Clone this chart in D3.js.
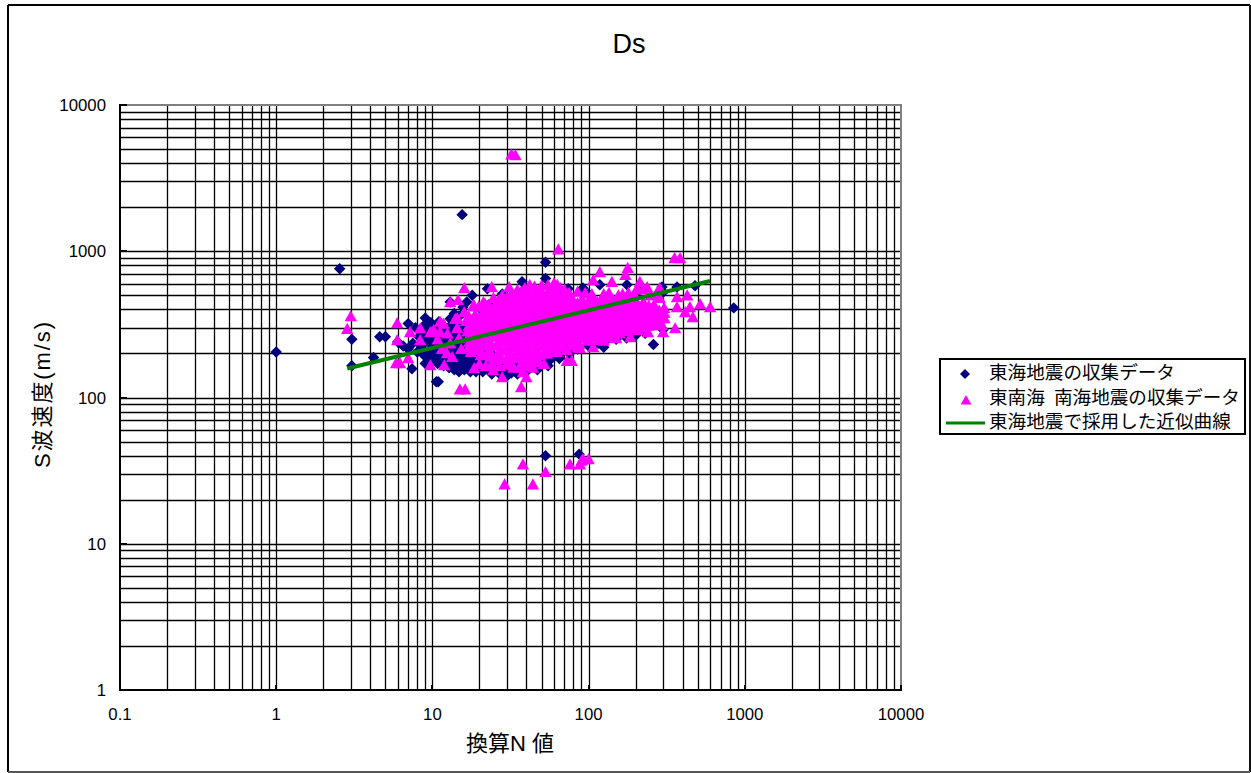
<!DOCTYPE html>
<html><head><meta charset="utf-8">
<script src="https://d3js.org/d3.v7.min.js"></script>
<style>html,body{margin:0;padding:0;background:#fff}svg{display:block}text{fill:#000}</style>
</head><body><svg id="c" width="1251" height="773"></svg>
<script>
const chartTitle="Ds", xTitle="換算N 値", yTitle="S波速度(m/s)";
const xTicks=[0.1,1,10,100,1000,10000], yTicks=[1,10,100,1000,10000];
const legendLabels=["東海地震の収集データ","東南海 南海地震の収集データ","東海地震で採用した近似曲線"];
const curve=[[2.85,158],[600,626]];
const tokai=[[1,205],[2.55,760],[15.5,1780],[53,840],[53,650],[3.05,250],[3.05,165],[53,40],[87,41],[850,410],[260,230],[125,221],[480,580],[368,570],[295,570],[176,590],[118,590],[92,560],[74,555],[37.5,618],[22.5,555],[18,500],[13,450],[9,350],[7,320],[4.6,260],[5,260],[4.2,188],[7.4,157],[10.6,128],[10.9,128],[10.8,171],[9,171],
[32,147],[21,171],[22.5,159],[47.6,162],[55,175],[64,201],[74,232],[124,267],[15.7,415],[15.7,378],[16.6,450],[14.6,355],[13,345],[11,330],[9.5,300],[8.5,280],[10,270],[12,290],[14,310],[6,240],[6.5,225],[7,215],[7.5,235],[8,205],[8.5,225],[9,250],[9.5,200],[10,225],[10.5,190],[11,215],[11.5,250],[12,195],[12.5,235],[13,180],[13.5,215],[14,260],[14.5,190],[15,240],[15.5,170],[16,205],[17,185],[17.5,270],[18,165],[19,195],[19.5,300],[20,160],[21,330],[24,155],[26,165],[28,150],[30,160],[34,150],[36,165],[42,170],[50,180],[60,190],[28,510],[48,530],[68,530],[100,510],[210,540],[7.8,300],[8.2,260],[10.8,310],[12.8,265],[16,300],[18.5,350],[20.5,400],[23,430]];
const tokaiColumns=[[8.8,[195,235,270,310]],[9.8,[185,215,245,285,325]],[10.8,[175,205,235,265,300]],[11.8,[165,190,225,255,285]],[12.8,[160,180,210,240,275,305]],[13.8,[155,175,200,230,260,295,375]],[14.8,[150,170,195,220,250,285,320,360]],[16,[155,175,190,215,240,270,305]],[17.5,[150,165,185,210,235,265,300]],[19,[150,165,185,205,235,265,300]],[21,[150,170,190,210,240]],[24,[145,160,180,200]],[27,[145,160,175]],[30,[140,155,170]],[35,[145,160,175]],[40,[150,165]],[47,[155,170]],[55,[165,180]],[65,[185,195]],[75,[200,210]],[85,[215]],[100,[225]],[115,[235]],[130,[245]],[150,[250]],[175,[255]],[200,[265]],[230,[275]],[300,[290,525]]];
const tonankai=[[32,4600],[34,4550],[64,1030],[355,900],[385,900],[29,25.5],[44,25.5],[38,35],[53,31],[76,35],[88,35],[92,38],[100,38],[90,37],[3,360],[2.85,295],[5.95,323],[5.95,247],[5.86,172],[6.2,172],[7,186],[8.35,298],[8.35,247],[9.7,167],[11.9,167],[12.4,201],[16,560],[13,450],[24,570],[31,570],[42,590],[47.6,527],[66,560],[118,720],[107,635],[178,770],[172,690],[141,618],[213,618],[237,570],[285,560],[285,480],[368,486],[428,500],[518,436],[600,416],[368,416],[445,416],[415,384],[465,355],[358,298],[295,313],[300,280],[265,313],[185,259],[220,309],[143,289],[107,221],[88,218],[72.5,178],[78,178],[45,175],[40,138],[38,149],[37,118],[32.5,167],[28,138],[25,181],[18.5,159],[15,114],[16.2,114],[24.5,154],[37.5,175],
[11.2,330],[14.4,350],[18.3,420],[14.6,465],[21.7,440],[26,440],[9.7,280],[11.2,280],[7.2,280],
[35,545],[39,560],[45,575],[50,585],[55,590],[60,605],[70,545],[63,590],[75,520],[85,530],[95,520],[105,510],[125,510],[135,520],[155,500],[165,510],[180,520],[195,510],[205,560],[225,550],[250,500],[270,510],
[20,170],[22,165],[24,170],[27,165],[30,170],[33,160],[36,160],[41,165],[44,160],[48,175],[52,170],[150,255],[125,245],[240,280],
[10.2,290],[10.8,250],[11.5,215],[11.8,320],[12.5,275],[13,235],[13.4,190],[14,345],[14.4,300],[14.8,255],[15.3,215],[16,385],[16.4,335],[16.8,285],[17.2,240],[17.6,205],[18.4,430],[18.8,370],[19.2,320],[19.6,270],[20,230],[20.4,195],[21.2,450],[21.6,395],[22,345],[22.4,300],[22.8,260],[23.2,225],[23.6,190],[24.6,480],[25,420],[25.4,365],[25.8,320],[26.2,280],[26.6,245],[27,210],[28,500],[28.4,440],[28.8,385],[29.2,340],[29.6,295],[30,260],[30.4,225],[30.8,195],[32,515],[32.6,450],[33,395],[33.4,350],[33.8,305],[34.2,270],[34.6,235],[35,205],[37,530],[37.4,465],[37.8,410],[38.2,360],[38.6,315],[39,280],[39.4,245],[39.8,215],[40.2,190],[43,530],[43.4,470],[43.8,415],[44.2,365],[44.6,325],[45,285],[45.4,255],[45.8,225],[46.2,200],[50,530],[50.4,475],[50.8,420],[51.2,375],[51.6,335],[52,295],[52.4,265],[52.8,235],[53.2,210],[58,545],[58.4,485],[58.8,430],[59.2,385],[59.6,340],[60,305],[60.4,270],[60.8,240],[61.2,215],[67,500],[67.4,445],[67.8,395],[68.2,350],[68.6,315],[69,280],[69.4,250],[69.8,225],[78,480],[78.4,430],[78.8,385],[79.2,345],[79.6,310],[80,280],[80.4,255],[80.8,230],[91,470],[91.4,420],[91.8,380],[92.2,345],[92.6,310],[93,285],[93.4,255],[106,475],[106.4,425],[106.8,385],[107.2,350],[107.6,315],[108,285],[108.4,260],[122,480],[122.4,430],[122.8,390],[123.2,355],[123.6,320],[124,295],[124.4,270],[142,470],[142.4,425],[142.8,385],[143.2,350],[143.6,320],[144,295],[165,465],[165.4,420],[165.8,385],[166.2,350],[166.6,320],[167,295],[192,460],[192.4,420],[192.8,385],[193.2,355],[193.6,325],[194,300],[224,450],[224.4,415],[224.8,380],[225.2,350],[225.6,325],[262,430],[262.4,395],[262.8,365],[263.2,340],[305,410],[305.4,380],[305.8,350]];
const tonankaiColumns=[[17.1,[360,310,262,222]],[19.8,[420,345,295,250,212]],[22.9,[425,370,322,280,242,207]],[26.4,[465,400,345,300,262,228,197]],[30,[480,415,362,318,278,243,210,184]],[34.6,[490,425,372,328,288,252,220,190]],[40,[500,437,385,338,298,262,230,203,180]],[46.5,[500,442,390,345,305,270,240,212,188]],[54,[510,450,400,355,318,283,252,225,200]],[62.5,[540,470,410,365,325,292,255,228,205]],[72.5,[490,415,370,330,295,265,238,212]],[85,[445,405,362,327,295,268,242,220]],[99,[450,400,362,325,297,270,245]],[114,[450,405,367,332,300,272,248]],[132,[450,405,367,335,305,280,258]],[154,[445,402,367,335,307,282]],[178,[440,400,367,337,310,285]],[207,[435,400,365,337,312,290]],[243,[425,390,360,335,310]],[283,[395,365,340,318]],
[18.1,[335,285,245,215]],[20.8,[375,320,272,232,200]],[24,[395,345,302,265,228,198]],[27.6,[425,372,328,290,252,218,188]],[31.5,[435,382,338,298,262,228,198]],[36,[445,395,350,308,275,242,212,186]],[41.5,[445,398,352,312,278,248,218,192]],[48,[455,405,358,320,285,252,226,196]],[55.5,[470,415,370,330,298,262,236,208]],[64,[510,440,382,338,303,272,245,220]],[74,[455,405,352,318,283,255,228]],[87,[425,378,342,310,282,256,232]],[101,[420,380,343,312,283,260]],[117,[425,382,350,318,288,262]],[136,[425,385,350,322,295,272]],[158,[425,385,352,322,298,275]],[184,[420,385,352,325,300]],[215,[415,382,352,325,302]],[252,[405,375,348,322]]];
const L=120,R=901,T=105,B=690;
const x=d3.scaleLog().domain([0.1,10000]).range([L,R]);
const y=d3.scaleLog().domain([1,10000]).range([B,T]);
const svg=d3.select("#c");
const ar="'Liberation Sans',Arial,sans-serif", jp="'Liberation Sans','Noto Sans CJK JP',sans-serif";
const minor=t=>{const o=[];t.slice(0,-1).forEach(v=>{for(let i=1;i<=9;i++)o.push(v*i)});o.push(t[t.length-1]);return o};
const expand=c=>c.flatMap(([n,vs])=>vs.map(v=>[n,v]));
const frame=svg.append("g").attr("stroke-width",2).attr("shape-rendering","crispEdges");
frame.append("line").attr("x1",8).attr("x2",8).attr("y1",5).attr("y2",772).attr("stroke","#000");
frame.append("line").attr("x1",8).attr("x2",1250).attr("y1",5).attr("y2",5).attr("stroke","#000");
frame.append("line").attr("x1",1250).attr("x2",1250).attr("y1",5).attr("y2",772).attr("stroke","#111");
frame.append("line").attr("x1",8).attr("x2",1250).attr("y1",772).attr("y2",772).attr("stroke","#555");
const g=svg.append("g").attr("stroke","#000");
g.selectAll(".v").data(minor(xTicks).slice(1,-1)).join("line").attr("x1",d=>Math.round(x(d))+.5).attr("x2",d=>Math.round(x(d))+.5).attr("y1",T).attr("y2",B).attr("stroke-width",1.3);
g.selectAll(".h").data(minor(yTicks).slice(1,-1)).join("line").attr("y1",d=>Math.round(y(d))+.5).attr("y2",d=>Math.round(y(d))+.5).attr("x1",L).attr("x2",R).attr("stroke-width",1.5);
const ax=svg.append("g").attr("shape-rendering","crispEdges");
ax.append("line").attr("x1",L).attr("x2",R+1).attr("y1",T).attr("y2",T).attr("stroke-width",2).attr("stroke","#808080");
ax.append("line").attr("x1",R).attr("x2",R).attr("y1",T).attr("y2",B).attr("stroke-width",2).attr("stroke","#808080");
ax.append("line").attr("x1",L).attr("x2",L).attr("y1",T-1).attr("y2",B+1).attr("stroke-width",2).attr("stroke","#000");
ax.append("line").attr("x1",L).attr("x2",R+1).attr("y1",B).attr("y2",B).attr("stroke-width",2).attr("stroke","#000");
ax.selectAll(".ty").data(yTicks.slice(1)).join("line").attr("x1",L).attr("x2",L+7).attr("y1",d=>y(d)).attr("y2",d=>y(d)).attr("stroke","#000").attr("stroke-width",2);
ax.selectAll(".tx").data(xTicks.slice(1)).join("line").attr("x1",d=>x(d)).attr("x2",d=>x(d)).attr("y1",B-5).attr("y2",B).attr("stroke","#000").attr("stroke-width",2);
svg.append("g").selectAll("text").data(yTicks).join("text").attr("x",106).attr("y",d=>y(d)+6).attr("text-anchor","end").attr("font-family",ar).attr("font-size",16.8).text(d=>d);
svg.append("g").selectAll("text").data(xTicks).join("text").attr("x",d=>x(d)).attr("y",720).attr("text-anchor","middle").attr("font-family",ar).attr("font-size",16.8).text(d=>d);
const diamond=d3.symbol(d3.symbolSquare,66)();
svg.append("g").selectAll("path").data(tokai.concat(expand(tokaiColumns))).join("path").attr("d",diamond).attr("transform",d=>`translate(${x(d[0])},${y(d[1])}) rotate(45)`).attr("fill","#000080");
const tri="M0,-6L6.2,5.2L-6.2,5.2Z";
svg.append("g").selectAll("path").data(tonankai.concat(expand(tonankaiColumns))).join("path").attr("d",tri).attr("transform",d=>`translate(${x(d[0])},${y(d[1])})`).attr("fill","#ff00ff");
svg.append("path").attr("d",d3.line().x(d=>x(d[0])).y(d=>y(d[1]))(curve)).attr("stroke","#008000").attr("stroke-width",4).attr("fill","none");
svg.append("text").attr("x",629).attr("y",53).attr("text-anchor","middle").attr("font-family",ar).attr("font-size",27).text(chartTitle);
svg.append("text").attr("x",510).attr("y",751).attr("text-anchor","middle").attr("font-family",jp).attr("font-size",22).text(xTitle);
svg.append("text").attr("transform","translate(50,395) rotate(-90)").attr("text-anchor","middle").attr("font-family",jp).attr("font-size",22).attr("textLength",146).attr("lengthAdjust","spacing").text(yTitle);
const lg=svg.append("g");
lg.append("rect").attr("x",940).attr("y",359).attr("width",305).attr("height",75).attr("fill","#fff").attr("stroke","#000").attr("stroke-width",1.5).attr("shape-rendering","crispEdges");
lg.selectAll("text").data(legendLabels).join("text").attr("x",989).attr("y",(d,i)=>[379,404,428][i]).attr("font-family",jp).attr("font-size",18.6).attr("word-spacing",4).text(d=>d);
lg.append("path").attr("d",d3.symbol(d3.symbolSquare,50)()).attr("transform","translate(965,374) rotate(45)").attr("fill","#000080");
lg.append("path").attr("d","M0,-5L5.4,4.6L-5.4,4.6Z").attr("transform","translate(966,400)").attr("fill","#ff00ff");
lg.append("line").attr("x1",946).attr("x2",985).attr("y1",423).attr("y2",423).attr("stroke","#008000").attr("stroke-width",3);
</script></body></html>
